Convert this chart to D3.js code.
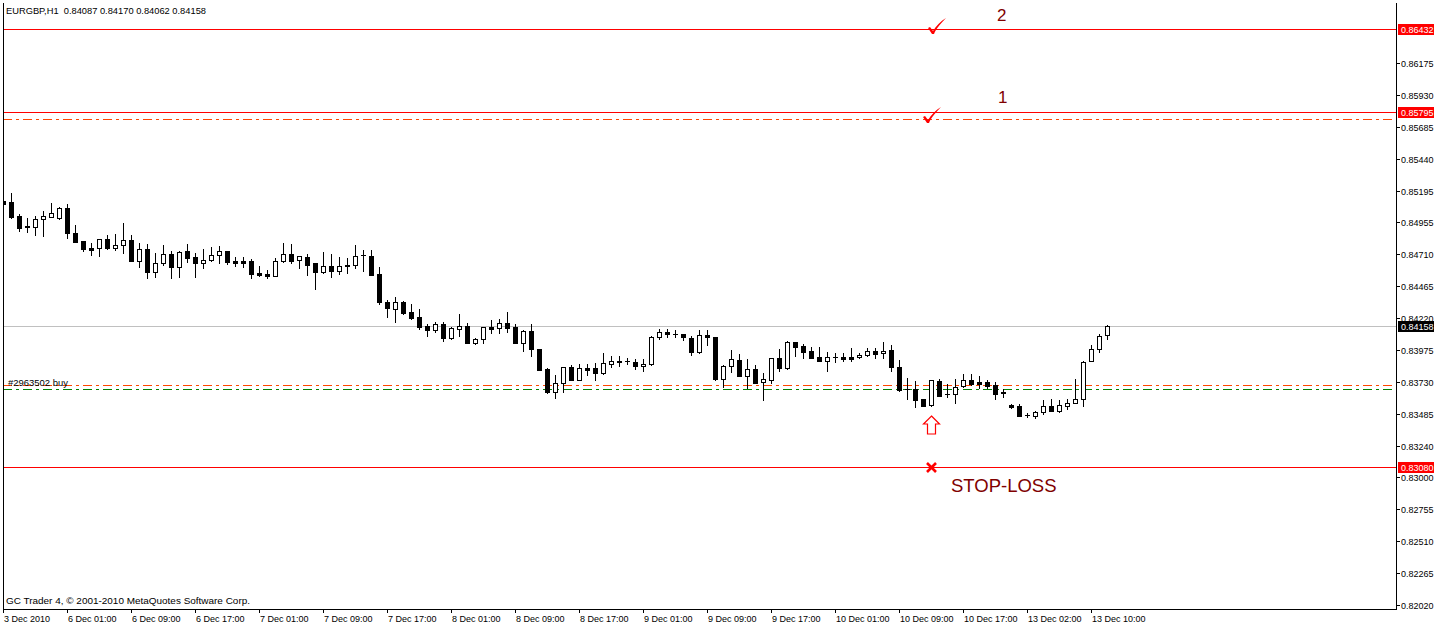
<!DOCTYPE html>
<html><head><meta charset="utf-8">
<script src="https://cdn.jsdelivr.net/npm/d3@7"></script>
<style>html,body{margin:0;padding:0;background:#fff;overflow:hidden}svg{display:block}</style>
</head><body>
<svg id="c" width="1434" height="626"></svg>
<script>
// ---------- DATA ----------
const symbolTitle = "EURGBP,H1  0.84087 0.84170 0.84062 0.84158";
const copyright = "GC Trader 4, \u00A9 2001-2010 MetaQuotes Software Corp.";
// trading sessions: [day, first hour, last hour]  -> hourly bar categories
const sessions = [["3 Dec",16,23],["6 Dec",1,23],["7 Dec",0,23],["8 Dec",0,23],["9 Dec",0,23],["10 Dec",0,23],["13 Dec",1,12]];
const opens = [.85115,.85108,.85001,.84924,.84919,.84975,.84995,.84983,.85059,.84868,
.84809,.84758,.84754,.84822,.84758,.84776,.84817,.84659,.84748,.84575,
.84639,.84710,.84613,.84733,.84687,.84643,.84664,.84700,.84733,.84654,
.84654,.84656,.84567,.84557,.84544,.84659,.84710,.84662,.84687,.84641,
.84570,.84618,.84582,.84628,.84623,.84700,.84695,.84555,.84340,.84291,
.84340,.84266,.84226,.84159,.84131,.84172,.84067,.84138,.84159,.84031,
.84062,.84151,.84146,.84180,.84149,.84031,.84121,.83983,.83830,.83657,
.83721,.83843,.83746,.83836,.83836,.83802,.83871,.83889,.83891,.83886,
.83853,.83866,.84073,.84111,.84096,.84096,.84065,.83958,.84090,.84075,
.83756,.83851,.83899,.83779,.83828,.83728,.83746,.83912,.83840,.84034,
.84006,.83968,.83920,.83894,.83920,.83920,.83920,.83920,.83939,.83970,
.83949,.83972,.83843,.83675,.83675,.83598,.83555,.83738,.83639,.83637,
.83700,.83746,.83731,.83731,.83708,.83657,.83555,.83547,.83478,.83473,
.83499,.83547,.83511,.83549,.83568,.83598,.83894,.83981,.84087];
const highs = [.85238,.85174,.85016,.84985,.85001,.85039,.85100,.85072,.85092,.84932,
.84812,.84794,.84825,.84855,.84863,.84947,.84855,.84796,.84786,.84718,
.84779,.84735,.84731,.84786,.84718,.84748,.84761,.84771,.84735,.84685,
.84687,.84669,.84618,.84588,.84682,.84792,.84786,.84697,.84710,.84643,
.84725,.84710,.84685,.84679,.84779,.84741,.84741,.84608,.84356,.84379,
.84350,.84327,.84287,.84174,.84190,.84190,.84149,.84251,.84184,.84064,
.84151,.84205,.84213,.84268,.84172,.84128,.84174,.83985,.83840,.83784,
.83845,.83861,.83868,.83868,.83874,.83950,.83930,.83930,.83917,.83904,
.83907,.84079,.84136,.84134,.84128,.84098,.84085,.84128,.84125,.84077,
.83861,.83976,.83945,.83904,.83861,.83797,.83914,.83981,.84044,.84039,
.84019,.84001,.84001,.83963,.83955,.83950,.83989,.83955,.83989,.83989,
.84034,.84014,.83899,.83759,.83741,.83600,.83748,.83751,.83713,.83751,
.83792,.83792,.83777,.83746,.83733,.83675,.83562,.83562,.83496,.83511,
.83592,.83601,.83592,.83601,.83751,.83888,.84014,.84096,.84170];
const lows = [.85069,.84988,.84886,.84878,.84855,.84848,.84993,.84980,.84832,.84800,
.84733,.84702,.84695,.84752,.84741,.84718,.84655,.84610,.84526,.84536,
.84626,.84526,.84536,.84651,.84536,.84605,.84657,.84643,.84631,.84618,
.84613,.84529,.84544,.84529,.84541,.84649,.84639,.84605,.84549,.84442,
.84568,.84536,.84559,.84567,.84605,.84580,.84550,.84327,.84230,.84192,
.84253,.84213,.84138,.84085,.84113,.84047,.84060,.84085,.84029,.84024,
.84031,.84108,.84108,.84116,.84027,.83970,.83932,.83820,.83644,.83606,
.83657,.83744,.83744,.83784,.83744,.83790,.83848,.83853,.83866,.83830,
.83817,.83864,.84057,.84077,.84073,.84052,.83937,.83956,.84014,.83744,
.83689,.83807,.83777,.83683,.83721,.83592,.83725,.83817,.83828,.83930,
.83912,.83915,.83892,.83817,.83881,.83894,.83894,.83912,.83930,.83917,
.83914,.83817,.83664,.83601,.83542,.83547,.83547,.83624,.83618,.83568,
.83695,.83708,.83683,.83683,.83601,.83618,.83529,.83471,.83465,.83458,
.83484,.83509,.83504,.83522,.83566,.83547,.83892,.83963,.84062];
const closes = [.85092,.84995,.84911,.84913,.84975,.85001,.85021,.85064,.84868,.84804,
.84748,.84743,.84822,.84758,.84779,.84817,.84659,.84748,.84575,.84639,
.84710,.84613,.84728,.84682,.84643,.84664,.84700,.84733,.84651,.84639,
.84639,.84559,.84552,.84542,.84656,.84710,.84659,.84695,.84628,.84572,
.84618,.84580,.84618,.84616,.84695,.84699,.84552,.84340,.84293,.84340,
.84261,.84223,.84154,.84131,.84172,.84067,.84142,.84159,.84031,.84062,
.84149,.84138,.84180,.84146,.84031,.84121,.83981,.83823,.83657,.83721,
.83843,.83746,.83836,.83823,.83802,.83874,.83891,.83887,.83890,.83855,
.83871,.84077,.84111,.84096,.84094,.84073,.83963,.84090,.84073,.83756,
.83853,.83904,.83779,.83828,.83725,.83751,.83912,.83840,.84034,.84001,
.83963,.83917,.83894,.83920,.83918,.83904,.83904,.83937,.83970,.83945,
.83970,.83843,.83669,.83673,.83592,.83549,.83746,.83626,.83637,.83695,
.83746,.83715,.83718,.83703,.83639,.83644,.83542,.83473,.83477,.83499,
.83547,.83511,.83555,.83568,.83598,.83886,.83981,.84083,.84158];
const timeTickBars = ["3 Dec 16:00","6 Dec 01:00","6 Dec 09:00","6 Dec 17:00","7 Dec 01:00","7 Dec 09:00","7 Dec 17:00","8 Dec 01:00","8 Dec 09:00","8 Dec 17:00","9 Dec 01:00","9 Dec 09:00","9 Dec 17:00","10 Dec 01:00","10 Dec 09:00","10 Dec 17:00","13 Dec 02:00","13 Dec 10:00"];
const timeTickLabels = ["3 Dec 2010","6 Dec 01:00","6 Dec 09:00","6 Dec 17:00","7 Dec 01:00","7 Dec 09:00","7 Dec 17:00","8 Dec 01:00","8 Dec 09:00","8 Dec 17:00","9 Dec 01:00","9 Dec 09:00","9 Dec 17:00","10 Dec 01:00","10 Dec 09:00","10 Dec 17:00","13 Dec 02:00","13 Dec 10:00"];
const priceTicks = [0.86175,0.85930,0.85685,0.85440,0.85195,0.84955,0.84710,0.84465,0.84220,0.83975,0.83730,0.83485,0.83240,0.83000,0.82755,0.82510,0.82265,0.82020];
const levelPrices = [0.86432, 0.85795, 0.85741, 0.84158, 0.83705, 0.83675, 0.83080];
const levelKinds  = ["target","target","tp","bid","order","open","stop"];
const orderLabel = "#2963502 buy";
const signalBar = "10 Dec 13:00";

// ---------- LAYOUT ----------
const W = 1434, H = 626;
const plot = {left: 3, top: 3, right: 1396, bottom: 609};
const step = 8;
const FONT = "'Liberation Sans', Arial, sans-serif";

const categories = [];
sessions.forEach(([d, h0, h1]) => { for (let h = h0; h <= h1; h++) categories.push(`${d} ${String(h).padStart(2, "0")}:00`); });
const candles = categories.map((c, i) => ({c, o: opens[i], h: highs[i], l: lows[i], cl: closes[i]}));

const x = d3.scalePoint().domain(categories).range([plot.left, plot.left + step * (categories.length - 1)]);
const y = d3.scaleLinear().domain([0.81993, 0.86631]).range([plot.bottom, plot.top]);
const px = c => Math.round(x(c));
const py = p => Math.round(y(p));

const svg = d3.select("#c").attr("shape-rendering", "crispEdges");
svg.append("rect").attr("width", W).attr("height", H).attr("fill", "#ffffff");
svg.append("defs").append("clipPath").attr("id", "clip").append("rect")
  .attr("x", plot.left).attr("y", plot.top).attr("width", plot.right - plot.left).attr("height", plot.bottom - plot.top);

// level lines
const styles = {
  target: {color: "#ff0000", dash: null, box: "#ff0000"},
  stop:   {color: "#ff0000", dash: null, box: "#ff0000"},
  bid:    {color: "#c0c0c0", dash: null, box: "#000000"},
  tp:     {color: "#ff4500", dash: [9, 4, 3, 4], box: null},
  order:  {color: "#ff4500", dash: [9, 4, 3, 4], box: null},
  open:   {color: "#008000", dash: [9, 4, 3, 4], box: null}
};
const gl = svg.append("g").attr("clip-path", "url(#clip)");
levelPrices.forEach((p, i) => {
  const s = styles[levelKinds[i]];
  const yy = py(p);
  if (!s.dash) {
    gl.append("rect").attr("x", plot.left).attr("y", yy).attr("width", plot.right - plot.left).attr("height", 1).attr("fill", s.color);
  } else {
    const period = d3.sum(s.dash);
    const segs = [];
    for (let xx = plot.left; xx < plot.right; xx += period) {
      segs.push([xx, s.dash[0]]);
      segs.push([xx + s.dash[0] + s.dash[1], s.dash[2]]);
    }
    gl.selectAll(null).data(segs).join("rect")
      .attr("x", d => d[0]).attr("y", yy).attr("width", d => d[1]).attr("height", 1).attr("fill", s.color);
  }
});

// candles
const gc = svg.append("g").attr("clip-path", "url(#clip)");
gc.selectAll("rect.wick").data(candles).join("rect").attr("class", "wick")
  .attr("x", d => px(d.c)).attr("width", 1)
  .attr("y", d => py(d.h)).attr("height", d => py(d.l) - py(d.h) + 1)
  .attr("fill", "#000");
candles.forEach(d => {
  const cx = px(d.c), yo = py(d.o), yc = py(d.cl);
  const top = Math.min(yo, yc), bot = Math.max(yo, yc);
  if (top === bot || d.cl < d.o) {
    gc.append("rect").attr("x", cx - 2).attr("y", top).attr("width", 5).attr("height", bot - top + 1).attr("fill", "#000");
  } else {
    gc.append("rect").attr("x", cx - 2).attr("y", top).attr("width", 5).attr("height", bot - top + 1).attr("fill", "#000");
    gc.append("rect").attr("x", cx - 1).attr("y", top + 1).attr("width", 3).attr("height", Math.max(0, bot - top - 1)).attr("fill", "#fff");
  }
});

// frame
svg.append("rect").attr("x", plot.left).attr("y", plot.top).attr("width", 1).attr("height", plot.bottom - plot.top + 1).attr("fill", "#000");
svg.append("rect").attr("x", plot.right).attr("y", plot.top).attr("width", 1).attr("height", plot.bottom - plot.top + 1).attr("fill", "#000");
svg.append("rect").attr("x", plot.left).attr("y", plot.bottom).attr("width", plot.right - plot.left + 1).attr("height", 1).attr("fill", "#000");

// right price axis
const ga = svg.append("g").attr("font-family", FONT).attr("font-size", 9);
priceTicks.forEach(p => {
  const yy = py(p);
  ga.append("rect").attr("x", plot.right + 1).attr("y", yy).attr("width", 3).attr("height", 1).attr("fill", "#000");
  ga.append("text").attr("x", plot.right + 5).attr("y", yy + 4).attr("fill", "#000").text(p.toFixed(5));
});
levelPrices.forEach((p, i) => {
  const s = styles[levelKinds[i]];
  if (!s.box) return;
  const yy = py(p);
  ga.append("rect").attr("x", plot.right + 2).attr("y", yy - 5).attr("width", W - plot.right - 2).attr("height", 11).attr("fill", s.box);
  ga.append("text").attr("x", plot.right + 5).attr("y", yy + 4).attr("fill", "#fff").text(p.toFixed(5));
});

// bottom time axis
const gt = svg.append("g").attr("font-family", FONT).attr("font-size", 9);
timeTickBars.forEach((c, i) => {
  const xx = px(c);
  gt.append("rect").attr("x", xx).attr("y", plot.bottom).attr("width", 1).attr("height", 4).attr("fill", "#000");
  gt.append("text").attr("x", xx + 1).attr("y", 622).attr("fill", "#000").text(timeTickLabels[i]);
});

// texts
svg.append("text").attr("x", 6).attr("y", 14).attr("font-family", FONT).attr("font-size", 9)
  .attr("textLength", 200).attr("lengthAdjust", "spacingAndGlyphs").style("white-space", "pre").text(symbolTitle);
svg.append("text").attr("x", 6).attr("y", 604).attr("font-family", FONT).attr("font-size", 9)
  .attr("textLength", 244).attr("lengthAdjust", "spacingAndGlyphs").text(copyright);
svg.append("text").attr("x", 8).attr("y", py(levelPrices[4]) + 1).attr("font-family", FONT).attr("font-size", 9)
  .attr("textLength", 60).attr("lengthAdjust", "spacingAndGlyphs").text(orderLabel);

// annotations
const ann = svg.append("g").attr("shape-rendering", "auto");
const sx = px(signalBar);
const check = (bx, by) => ann.append("path")
  .attr("d", `M${bx-5},${by-6} L${bx-3},${by-7} L${bx},${by-3} C${bx+3},${by-8} ${bx+8},${by-13} ${bx+13},${by-16} C${bx+8},${by-11} ${bx+3},${by-5} ${bx+1},${by} L${bx-1},${by} Z`)
  .attr("fill", "#ff0000");
check(sx + 2, py(levelPrices[0]) + 5);
check(sx - 3, py(levelPrices[1]) + 11);
const maroon = "#800000";
ann.append("text").attr("x", sx + 66).attr("y", 21).attr("font-family", FONT).attr("font-size", 17).attr("fill", maroon).text("2");
ann.append("text").attr("x", sx + 67).attr("y", 103).attr("font-family", FONT).attr("font-size", 17).attr("fill", maroon).text("1");
ann.append("text").attr("x", sx + 20).attr("y", py(levelPrices[6]) + 25).attr("font-family", FONT).attr("font-size", 18.5).attr("fill", maroon).text("STOP-LOSS");
// stop X
const sy = py(levelPrices[6]);
ann.append("path").attr("d", `M${sx-4},${sy-4} L${sx+5},${sy+5} M${sx+5},${sy-4} L${sx-4},${sy+5}`)
  .attr("stroke", "#ff0000").attr("stroke-width", 2.6).attr("fill", "none");
// entry arrow
const ay = py(lows[categories.indexOf(signalBar)]) + 10;
ann.append("path").attr("d", `M${sx+0.5},${ay} L${sx+8.5},${ay+8} L${sx+4.5},${ay+8} L${sx+4.5},${ay+18} L${sx-3.5},${ay+18} L${sx-3.5},${ay+8} L${sx-7.5},${ay+8} Z`)
  .attr("fill", "#fff").attr("stroke", "#ff0000").attr("stroke-width", 1.2);
</script>
</body></html>
